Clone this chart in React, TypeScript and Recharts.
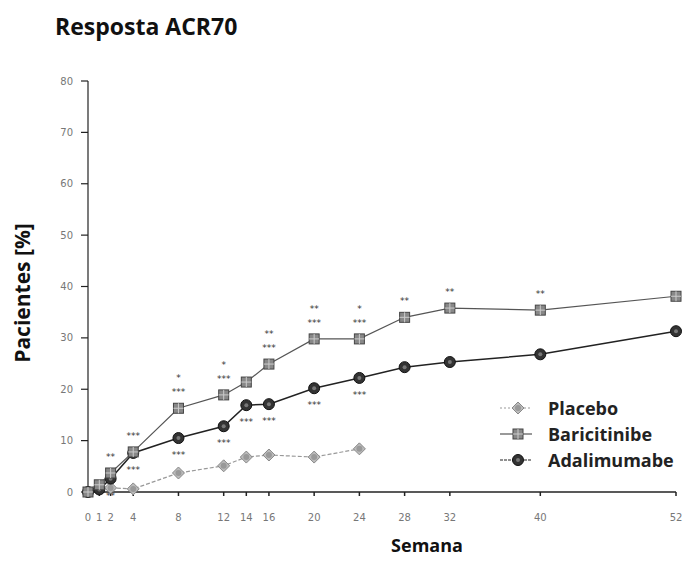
import React from "react";
import { LineChart, Line, XAxis, YAxis, LabelList } from "recharts";

const weeks = [0, 1, 2, 4, 8, 12, 14, 16, 20, 24, 28, 32, 40, 52];
const placebo = [0, 1.0, 0.8, 0.6, 3.7, 5.1, 6.8, 7.2, 6.8, 8.4, null, null, null, null];
const baricitinibe = [0, 1.4, 3.7, 7.8, 16.3, 18.9, 21.4, 24.9, 29.8, 29.8, 34, 35.8, 35.4, 38.1];
const adalimumabe = [0, 0.5, 2.6, 7.6, 10.5, 12.8, 16.9, 17.1, 20.2, 22.2, 24.3, 25.3, 26.8, 31.3];

// significance marks: upper row / lower row above Baricitinibe, row below Adalimumabe
const bariMarksTop = ["", "", "", "", "*", "*", "", "**", "**", "*", "", "", "", ""];
const bariMarks = ["", "", "**", "***", "***", "***", "", "***", "***", "***", "**", "**", "**", ""];
const adaMarks = ["", "", "**", "***", "***", "***", "***", "***", "***", "***", "", "", "", ""];

const xTicks = weeks;
const yTicks = [0, 10, 20, 30, 40, 50, 60, 70, 80];

const data = weeks.map((w, i) => ({
  week: w,
  placebo: placebo[i],
  baricitinibe: baricitinibe[i],
  adalimumabe: adalimumabe[i],
}));

const PlaceboDot = (p: any) => {
  const { cx, cy } = p;
  if (cx == null || cy == null || p.value == null) return null;
  return (
    <g>
      <polygon
        points={`${cx},${cy - 6} ${cx + 6},${cy} ${cx},${cy + 6} ${cx - 6},${cy}`}
        fill="#bbb"
        stroke="#888"
        strokeWidth={1}
      />
      <circle cx={cx} cy={cy} r={3} fill="#999" />
    </g>
  );
};

const BariDot = (p: any) => {
  const { cx, cy } = p;
  if (cx == null || cy == null) return null;
  return (
    <g>
      <rect x={cx - 5} y={cy - 5} width={10} height={10} fill="#888" stroke="#444" strokeWidth={1} />
      <path d={`M${cx - 5},${cy} H${cx + 5} M${cx},${cy - 5} V${cy + 5}`} stroke="#ccc" strokeWidth={1} />
    </g>
  );
};

const AdaDot = (p: any) => {
  const { cx, cy } = p;
  if (cx == null || cy == null) return null;
  return (
    <g>
      <circle cx={cx} cy={cy} r={5.5} fill="#333" stroke="#111" strokeWidth={1} />
      <circle cx={cx} cy={cy} r={2} fill="#777" />
    </g>
  );
};

const markLabel = (marks: string[], dy: number) => (props: any) => {
  const { x, y, index } = props;
  const m = marks[index];
  if (!m) return null;
  return (
    <text x={x} y={y + dy} textAnchor="middle" fontSize={9} fill="#333" fontFamily="DejaVu Sans">
      {m}
    </text>
  );
};

const legendItems = [
  { name: "Placebo", Dot: PlaceboDot, stroke: "#999", dash: "2 2" },
  { name: "Baricitinibe", Dot: BariDot, stroke: "#555", dash: undefined },
  { name: "Adalimumabe", Dot: AdaDot, stroke: "#222", dash: "3 1" },
];

const ChartLegend = () => (
  <div style={{ position: "absolute", left: 498, top: 395 }}>
    {legendItems.map((it) => (
      <div key={it.name} style={{ display: "flex", alignItems: "center", height: 26 }}>
        <svg width={36} height={16}>
          <line x1={2} y1={8} x2={34} y2={8} stroke={it.stroke} strokeWidth={1.2} strokeDasharray={it.dash} />
          <it.Dot cx={20} cy={8} value={1} />
        </svg>
        <span
          style={{
            marginLeft: 14,
            fontFamily: "Open Sans",
            fontWeight: 700,
            fontSize: 18,
            color: "#222",
          }}
        >
          {it.name}
        </span>
      </div>
    ))}
  </div>
);

export default function App() {
  return (
    <div style={{ position: "absolute", left: 0, top: 0, width: 686, height: 580, background: "#fff" }}>
      <div
        style={{
          position: "absolute",
          left: 55,
          top: 10,
          fontFamily: "Open Sans",
          fontWeight: 700,
          fontSize: 23,
          color: "#111",
        }}
      >
        Resposta ACR70
      </div>
      <div
        style={{
          position: "absolute",
          left: 22,
          top: 293,
          transform: "translate(-50%, -50%) rotate(-90deg)",
          whiteSpace: "nowrap",
          fontFamily: "Open Sans",
          fontWeight: 700,
          fontSize: 21,
          color: "#111",
        }}
      >
        Pacientes [%]
      </div>
      <div
        style={{
          position: "absolute",
          left: 427,
          top: 545,
          transform: "translate(-50%, -50%)",
          fontFamily: "Open Sans",
          fontWeight: 700,
          fontSize: 18,
          color: "#111",
        }}
      >
        Semana
      </div>
      <LineChart width={686} height={580} data={data} margin={{ top: 81, right: 10, left: 58, bottom: 58 }}>
        <XAxis
          dataKey="week"
          type="number"
          domain={[0, 52]}
          ticks={xTicks}
          interval={0}
          tickSize={4}
          tickMargin={18}
          height={30}
          stroke="#222"
          strokeWidth={1.5}
          tick={{ fontSize: 10, fill: "#777", fontFamily: "DejaVu Sans" }}
        />
        <YAxis
          type="number"
          domain={[0, 80]}
          ticks={yTicks}
          interval={0}
          width={30}
          tickSize={7}
          tickMargin={8}
          stroke="#222"
          strokeWidth={1.2}
          tick={{ fontSize: 10, fill: "#777", fontFamily: "DejaVu Sans" }}
        />
        <Line
          dataKey="placebo"
          stroke="#999"
          strokeWidth={1.2}
          strokeDasharray="4 2"
          dot={<PlaceboDot />}
          activeDot={false}
          connectNulls={false}
          isAnimationActive={false}
        />
        <Line
          dataKey="adalimumabe"
          stroke="#222"
          strokeWidth={1.5}
          dot={<AdaDot />}
          activeDot={false}
          isAnimationActive={false}
        >
          <LabelList dataKey="adalimumabe" content={markLabel(adaMarks, 20)} />
        </Line>
        <Line
          dataKey="baricitinibe"
          stroke="#555"
          strokeWidth={1.2}
          dot={<BariDot />}
          activeDot={false}
          isAnimationActive={false}
        >
          <LabelList dataKey="baricitinibe" content={markLabel(bariMarks, -13)} />
          <LabelList dataKey="baricitinibe" content={markLabel(bariMarksTop, -27)} />
        </Line>
      </LineChart>
      <ChartLegend />
    </div>
  );
}
